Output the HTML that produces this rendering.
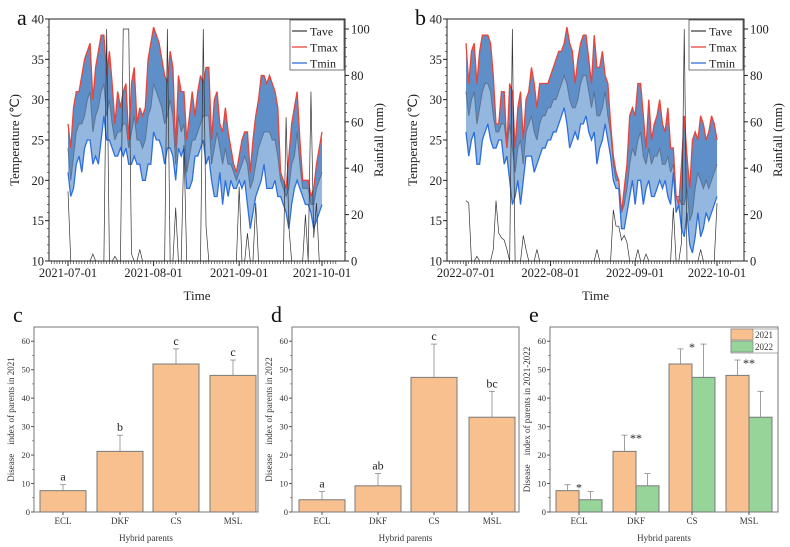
<!DOCTYPE html>
<html><head><meta charset="utf-8"><style>
body{margin:0;background:#fff}
svg{display:block;font-family:"Liberation Serif",serif}
</style></head><body>
<svg id="fig" width="790" height="547" viewBox="0 0 790 547" xmlns="http://www.w3.org/2000/svg"></svg>
<script>
// ---- Panel a data (2021) ----
const tmaxA=[27,24,29,31,31,33,35,36,37,30,34,36,38,38,33,36,32,27,31,29,31,32,25,32,34,27,29,28,29,35,37,39,38,37,35,33,32,36,34,24,33,31,31,25,28,31,28,31,33,32,34,34,25,30,31,27,26,29,26,24,22,21,23,25,26,26,21,25,28,30,33,33,32,33,32,31,29,21,20,19,23,27,29,31,25,20,20,20,18,19,22,24,26];
const tminA=[21,18,19,22,23,21,24,25,25,22,23,22,25,28,25,25,24,23,23,24,23,24,22,22,23,22,22,20,20,22,22,26,25,25,24,22,24,24,23,20,24,23,24,19,19,20,23,23,24,25,22,23,20,18,18,21,17,20,18,20,19,19,20,19,20,17,14,16,18,19,20,22,19,19,19,20,18,18,17,16,14,17,19,20,19,18,17,17,16,14,15,16,17];
const taveA=[24,20,23,26,27,27,28,30,31,26,28,29,31,32,28,30,27,25,26,26,27,27,24,26,28,25,25,24,25,28,29,32,31,30,29,27,28,30,28,22,28,26,27,21,23,25,25,26,27,28,28,28,22,24,26,24,22,24,22,22,21,20,21,22,23,22,19,20,22,24,25,26,26,26,25,25,23,20,19,18,19,22,23,26,22,19,19,19,17,17,19,20,21];
const rainA=[30,0,0,0,0,0,0,0,0,3,0,0,0,0,100,0,0,2,0,0,100,100,100,3,0,0,5,0,0,0,0,0,0,0,0,0,100,0,0,23,0,0,50,0,0,0,0,0,0,100,15,0,0,0,0,0,0,0,0,0,0,0,32,0,0,12,0,0,25,0,0,0,0,0,0,0,0,0,0,62,15,0,0,0,0,0,20,0,73,10,25,0,0];
const xTicksA=["2021-07-01","2021-08-01","2021-09-01","2021-10-01"];
const xTickDaysA=[0,31,62,92];
// ---- Panel b data (2022) ----
const tmaxB=[37,32,36,37,32,36,38,38,38,37,33,27,27,31,31,24,32,31,24,29,31,25,30,31,34,32,29,32,32,32,32,33,34,35,36,36,37,39,37,36,32,35,37,38,38,35,32,38,34,34,36,33,32,27,23,21,20,16,19,22,28,29,28,32,32,28,24,30,25,27,28,30,27,26,29,24,24,18,17,22,28,23,19,25,26,25,28,27,25,26,28,27,25];
const tminB=[26,23,25,26,22,22,25,26,27,25,24,24,25,25,22,23,20,17,18,20,17,20,23,23,23,21,22,23,24,24,25,25,26,26,27,28,29,27,24,25,26,25,27,27,28,26,25,26,22,24,25,27,25,23,20,19,19,14,14,16,18,20,17,20,20,17,19,20,18,18,19,20,19,20,18,17,21,16,17,14,13,16,12,11,13,16,13,14,16,15,16,17,18];
const taveB=[31,28,30,31,27,29,31,32,32,31,28,26,26,27,27,24,27,24,21,24,25,22,26,27,28,26,25,27,28,28,29,29,30,30,31,32,33,32,30,29,29,30,32,33,33,31,29,31,28,28,29,31,28,26,22,20,20,16,17,19,22,24,23,25,26,23,22,24,22,23,23,24,22,22,23,21,22,18,18,17,17,19,15,16,19,21,20,19,20,19,20,21,22];
const rainB=[26,25,0,0,2,0,0,0,0,0,5,26,12,10,9,5,0,100,0,0,0,11,5,0,0,0,5,0,0,0,0,0,0,0,0,0,0,0,0,0,0,0,0,0,0,0,0,0,5,0,0,0,0,0,22,15,15,9,11,8,0,0,0,5,0,0,3,0,0,0,0,0,0,0,0,0,23,0,0,8,100,0,0,0,0,0,5,0,0,0,0,0,25];
const xTicksB=["2022-07-01","2022-08-01","2022-09-01","2022-10-01"];
const xTickDaysB=[0,31,62,92];
const tempTicks=[10,15,20,25,30,35,40];
const rainTicks=[0,20,40,60,80,100];
// ---- Bar data ----
const parents=["ECL","DKF","CS","MSL"];
const di2021=[7.5,21.3,52,48];
const err2021=[2.1,5.7,5.3,5.4];
const sig2021=["a","b","c","c"];
const di2022=[4.3,9.2,47.3,33.3];
const err2022=[2.9,4.3,11.7,9.1];
const sig2022=["a","ab","c","bc"];
const starsE=["*","**","*","**"];
const barTicks=[0,10,20,30,40,50,60];

const NS="http://www.w3.org/2000/svg";
const svg=document.getElementById('fig');
function el(tag,attrs,parent,text){const e=document.createElementNS(NS,tag);for(const k in attrs)e.setAttribute(k,attrs[k]);if(text!==undefined)e.textContent=text;(parent||svg).appendChild(e);return e;}

function tempPanel(id,L,R,x0,x1,tmax,tmin,tave,rain,xt,xtd,letter,legX){
  const T=19,B=261;
  const g=el('g',{});
  
  
  const xs=d=>x0+d*(x1-x0)/92;
  const yT=t=>B-(t-10)*(B-T)/30;
  const yR=r=>B-r*2.32;
  const cp=el('clipPath',{id:'clip'+id},g);el('rect',{x:L,y:T,width:R-L,height:B-T},cp);
  const pg=el('g',{'clip-path':'url(#clip'+id+')'},g);
  let up=tmax.map((v,i)=>xs(i)+','+yT(v)),mid=tave.map((v,i)=>xs(i)+','+yT(v)),lo=tmin.map((v,i)=>xs(i)+','+yT(v));
  const f1=el('polygon',{points:up.concat(mid.slice().reverse()).join(' '),fill:'#5f8fc8'},pg);
  
  const f2=el('polygon',{points:mid.concat(lo.slice().reverse()).join(' '),fill:'#93b7df'},pg);
  
  const lt=el('polyline',{points:mid.join(' '),fill:'none',stroke:'#5d7390','stroke-width':1},pg);
  
  const lx=el('polyline',{points:up.join(' '),fill:'none',stroke:'#e8443a','stroke-width':1.3},pg);
  
  const ln=el('polyline',{points:lo.join(' '),fill:'none',stroke:'#2f6fd8','stroke-width':1.3},pg);
  
  const lr=el('polyline',{points:rain.map((v,i)=>xs(i)+','+yR(v)).join(' '),fill:'none',stroke:'#333','stroke-width':0.7},pg);
  
  el('rect',{x:L,y:T,width:R-L,height:B-T,fill:'none',stroke:'#222','stroke-width':1},g);
  tempTicks.forEach(t=>{el('line',{x1:L-4,x2:L,y1:yT(t),y2:yT(t),stroke:'#222'},g);
    const tx=el('text',{x:L-5,y:yT(t)+4.5,'text-anchor':'end','font-size':12.5,fill:'#222'},g,t);
    });
  for(let t=10;t<40;t+=1){el('line',{x1:L-2,x2:L,y1:yT(t),y2:yT(t),stroke:'#222','stroke-width':0.6},g);}
  rainTicks.forEach(r=>{el('line',{x1:R,x2:R+4,y1:yR(r),y2:yR(r),stroke:'#222'},g);
    const tx=el('text',{x:R+6,y:yR(r)+4.5,'font-size':12.5,fill:'#222'},g,r);
    });
  for(let r=0;r<104;r+=4){el('line',{x1:R,x2:R+2,y1:yR(r),y2:yR(r),stroke:'#222','stroke-width':0.6},g);}
  for(let d=-7;d<=97;d++){const x=xs(d);if(x<L||x>R)continue;el('line',{x1:x,x2:x,y1:B,y2:B+3,stroke:'#222','stroke-width':0.6},g);}
  xt.forEach((s,i)=>{const x=xs(xtd[i]);el('line',{x1:x,x2:x,y1:B,y2:B+5,stroke:'#222'},g);
    const tx=el('text',{x:x,y:B+16,'text-anchor':'middle','font-size':12.5,fill:'#222'},g,s);
    });
  const xl=el('text',{x:(L+R)/2,y:300,'text-anchor':'middle','font-size':13,fill:'#222'},g,'Time');
  
  const yl=el('text',{transform:`translate(${L-30},${(T+B)/2}) rotate(-90)`,'text-anchor':'middle','font-size':13,fill:'#222'},g,'Temperature (℃)');
  
  const yr=el('text',{transform:`translate(${R+38},${(T+B)/2}) rotate(-90)`,'text-anchor':'middle','font-size':13,fill:'#222'},g,'Rainfall (mm)');
  
  const pl=el('text',{x:L-32,y:25,'font-size':22,fill:'#111'},g,letter);
  
  const lg=el('g',{},g);
  el('rect',{x:legX,y:20,width:R-legX-1,height:50,fill:'#fff',stroke:'#555','stroke-width':0.8},lg);
  [['Tave','#444'],['Tmax','#e8443a'],['Tmin','#2f6fd8']].forEach((e,i)=>{const y=31+i*16;
    el('line',{x1:legX+2,x2:legX+17,y1:y,y2:y,stroke:e[1],'stroke-width':1.3},lg);
    const t=el('text',{x:legX+20,y:y+4.5,'font-size':12,fill:'#222'},lg,e[0]);
    });
}
tempPanel('a',49,345,68,322,tmaxA,tminA,taveA,rainA,xTicksA,xTickDaysA,'a',290);
tempPanel('b',447,744,466,717,tmaxB,tminB,taveB,rainB,xTicksB,xTickDaysB,'b',689);

function barPanel(id,L,R,letter,yTitle,centers,series,colors,bw,offsets,sigs){
  const T=327,B=512;
  const g=el('g',{});
  const y=v=>B-v*(B-T)/65;
  series.forEach((s,si)=>{s.vals.forEach((v,i)=>{const cx=centers[i]+offsets[si];
    const r=el('rect',{x:cx-bw/2,y:y(v),width:bw,height:B-y(v),fill:colors[si],stroke:'#7a7a7a','stroke-width':1},g);
    
    const te=y(v+s.err[i]);
    el('line',{x1:cx,x2:cx,y1:y(v),y2:te,stroke:'#8a8a8a','stroke-width':0.8},g);
    el('line',{x1:cx-3,x2:cx+3,y1:te,y2:te,stroke:'#8a8a8a','stroke-width':0.8},g);
    if(s.sig){const t=el('text',{x:cx,y:te-4,'text-anchor':'middle','font-size':12,fill:'#222'},g,s.sig[i]);
      }
  });});
  if(sigs){sigs.forEach((s,i)=>{const top=Math.max(series[0].vals[i]+series[0].err[i],series[1].vals[i]+series[1].err[i]);
    const t=el('text',{x:centers[i],y:y(top)+7,'text-anchor':'middle','font-size':12,fill:'#222'},g,s);
    });}
  el('rect',{x:L,y:T,width:R-L,height:B-T,fill:'none',stroke:'#777','stroke-width':1},g);
  barTicks.forEach(v=>{el('line',{x1:L-3,x2:L,y1:y(v),y2:y(v),stroke:'#555'},g);
    const t=el('text',{x:L-4,y:y(v)+3,'text-anchor':'end','font-size':8.5,fill:'#333'},g,v);
    });
  for(let v=5;v<65;v+=10)el('line',{x1:L-2,x2:L,y1:y(v),y2:y(v),stroke:'#555','stroke-width':0.6},g);
  centers.forEach((c,i)=>{el('line',{x1:c,x2:c,y1:B,y2:B+3,stroke:'#555'},g);
    const t=el('text',{x:c,y:B+12,'text-anchor':'middle','font-size':9,fill:'#333'},g,parents[i]);
    });
  const xl=el('text',{x:(L+R)/2,y:541,'text-anchor':'middle','font-size':9,fill:'#333'},g,'Hybrid parents');
  
  const yl=el('text',{transform:`translate(${L-20},${(T+B)/2}) rotate(-90)`,'text-anchor':'middle','font-size':9,fill:'#333','xml:space':'preserve'},g,yTitle);
  
  const pl=el('text',{x:L-21,y:322,'font-size':22,fill:'#111'},g,letter);
  
  return g;
}
barPanel('c',34,258,'c','Disease\u2003index of parents in 2021',[63,120,176,233],[{name:'2021',vals:di2021,err:err2021,sig:sig2021}],['#f8c08f'],46,[0]);
barPanel('d',292,519,'d','Disease\u2003index of parents in 2022',[322,378,434,492],[{name:'2022',vals:di2022,err:err2022,sig:sig2022}],['#f8c08f'],46,[0]);
const ge=barPanel('e',550,778,'e','Disease\u2003index of parents in 2021-2022',[579,636,692,749],[{name:'2021',vals:di2021,err:err2021},{name:'2022',vals:di2022,err:err2022}],['#f8c08f','#97d49a'],23,[-11.5,11.5],starsE);
const lg=el('g',{},ge);
el('rect',{x:731,y:329,width:47,height:24,fill:'#fff',stroke:'#777','stroke-width':0.6},lg);
[['2021','#f8c08f'],['2022','#97d49a']].forEach((e,i)=>{el('rect',{x:731,y:329+i*12,width:22,height:11,fill:e[1],stroke:'#777','stroke-width':0.6},lg);
  const t=el('text',{x:755,y:338+i*12,'font-size':9,fill:'#333'},lg,e[0]);
  });
</script>
</body></html>
